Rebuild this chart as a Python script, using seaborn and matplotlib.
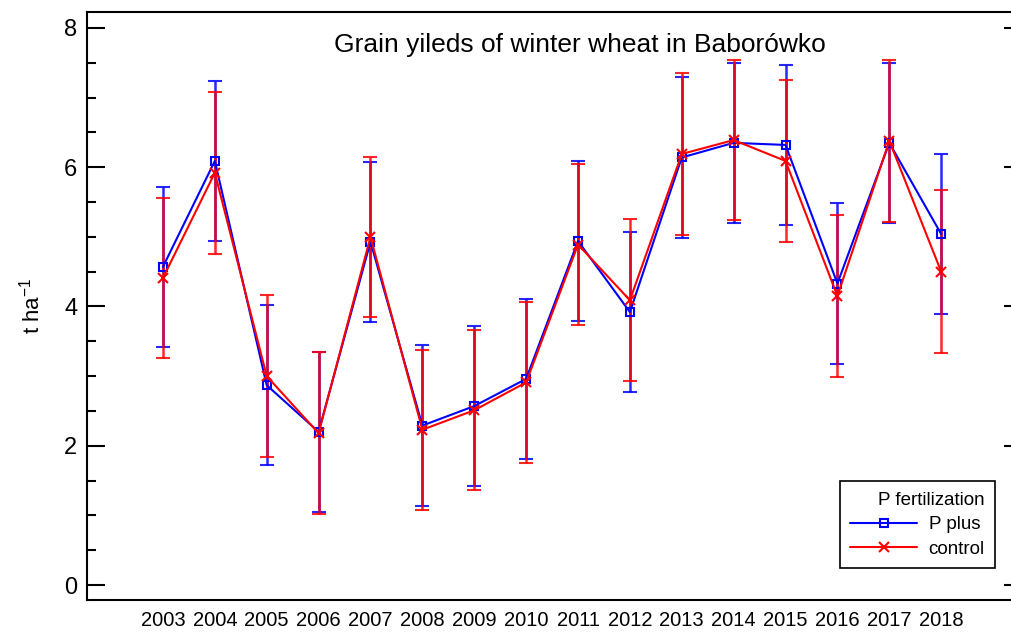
import numpy as np
import pandas as pd
import matplotlib
matplotlib.use('Agg')
import matplotlib.pyplot as plt
import seaborn as sns
from matplotlib.ticker import MultipleLocator

# Values
years = [2003, 2004, 2005, 2006, 2007, 2008, 2009, 2010,
         2011, 2012, 2013, 2014, 2015, 2016, 2017, 2018]
p_plus = [4.57, 6.09, 2.87, 2.20, 4.93, 2.29, 2.57, 2.96,
          4.94, 3.92, 6.14, 6.35, 6.32, 4.33, 6.35, 5.04]
p_plus_err = [1.15, 1.15, 1.15, 1.15, 1.15, 1.15, 1.15, 1.15,
              1.15, 1.15, 1.15, 1.15, 1.15, 1.15, 1.15, 1.15]
control = [4.41, 5.92, 3.00, 2.18, 5.00, 2.23, 2.51, 2.91,
           4.89, 4.09, 6.19, 6.39, 6.09, 4.15, 6.38, 4.50]
control_err = [1.15, 1.16, 1.16, 1.16, 1.15, 1.15, 1.15, 1.16,
               1.16, 1.16, 1.16, 1.15, 1.16, 1.16, 1.16, 1.17]

groups = ['P plus', 'control']
colors = {'P plus': '#0000ff', 'control': '#ff0000'}
markers = {'P plus': 's', 'control': 'x'}

df = pd.DataFrame({
    'year': years * 2,
    'yield': p_plus + control,
    'err': p_plus_err + control_err,
    'P fertilization': ['P plus'] * len(years) + ['control'] * len(years),
})

sns.set_style('ticks')
plt.rcParams['font.family'] = ['Liberation Sans', 'DejaVu Sans']
plt.rcParams['mathtext.default'] = 'regular'
for k in ['text.color', 'axes.labelcolor', 'xtick.color', 'ytick.color', 'axes.edgecolor']:
    plt.rcParams[k] = 'black'

fig = plt.figure(figsize=(10.11, 6.42), dpi=100)
ax = fig.add_axes([0.086, 0.0654, 0.925, 0.916])

for g in groups:
    sub = df[df['P fertilization'] == g]
    ax.errorbar(sub['year'], sub['yield'], yerr=sub['err'], fmt='none',
                ecolor=colors[g], elinewidth=1.8, capsize=5, capthick=1.5,
                alpha=0.85, zorder=2)
    sns.lineplot(data=sub, x='year', y='yield', color=colors[g],
                 marker=markers[g], markersize=6 if g == 'P plus' else 6.5,
                 markerfacecolor='none', markeredgecolor=colors[g],
                 markeredgewidth=1.5, linewidth=1.5, label=g, ax=ax, zorder=3)

ax.set_xlim(2001.535, 2019.56)
ax.set_ylim(-0.215, 8.23)
ax.set_xticks(years)
ax.set_xticklabels([str(y) for y in years], fontsize=14.5)
ax.yaxis.set_major_locator(MultipleLocator(2))
ax.yaxis.set_minor_locator(MultipleLocator(0.5))
ax.tick_params(axis='x', length=0, pad=8)
ax.tick_params(axis='y', which='major', direction='in', length=13, width=1.5,
               labelsize=17, pad=7, right=True)
ax.tick_params(axis='y', which='minor', direction='in', length=6.5, width=1.5,
               right=True)
for s in ax.spines.values():
    s.set_linewidth(1.5)

ax.set_xlabel('')
ax.set_ylabel('t ha$^{-1}$', fontsize=16, labelpad=14)
ax.text(0.527, 0.944, 'Grain yileds of winter wheat in Baborówko',
        transform=ax.transAxes, ha='center', va='center', fontsize=19)

leg = ax.legend(title='P fertilization', loc='lower right',
                bbox_to_anchor=(0.971, 0.054), borderaxespad=0,
                fancybox=False, framealpha=1, edgecolor='black',
                handlelength=3.6, borderpad=0.55, labelspacing=0.4,
                alignment='right', handletextpad=0.6,
                prop={'size': 13.5})
leg.get_frame().set_linewidth(1.2)
leg.get_title().set_fontsize(13.5)

fig.savefig('out.png', dpi=100)
